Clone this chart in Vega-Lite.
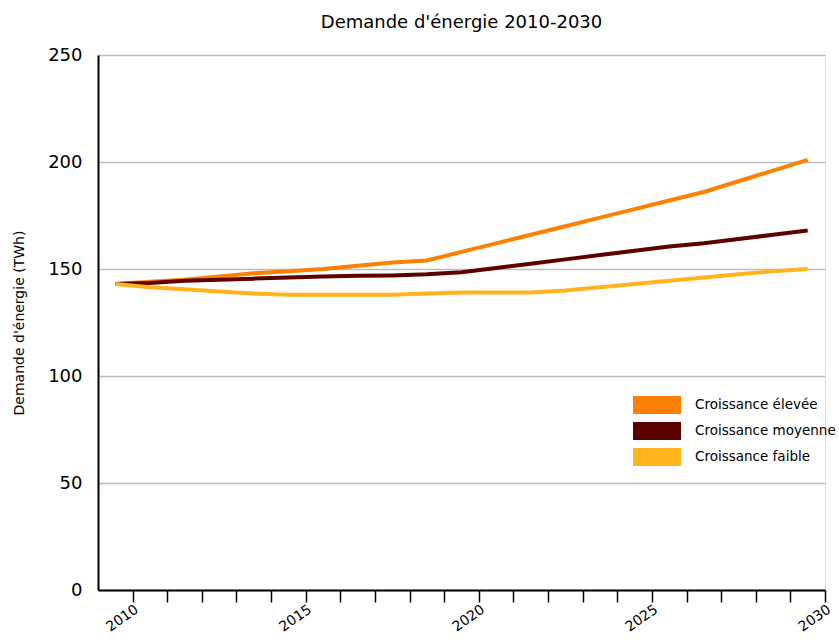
{
  "$schema": "https://vega.github.io/schema/vega-lite/v6.json",
  "width": 727,
  "height": 535,
  "autosize": {"type": "none"},
  "padding": {"left": 98, "top": 55, "right": 14, "bottom": 50},
  "background": "white",
  "title": {
    "text": "Demande d'énergie 2010-2030",
    "font": "DejaVu Sans",
    "fontSize": 18,
    "fontWeight": "normal",
    "color": "black",
    "offset": 14,
    "anchor": "middle"
  },
  "data": {
    "values": [
      {"annee": 2010, "scenario": "Croissance élevée", "demande": 143},
      {"annee": 2011, "scenario": "Croissance élevée", "demande": 144},
      {"annee": 2012, "scenario": "Croissance élevée", "demande": 145},
      {"annee": 2013, "scenario": "Croissance élevée", "demande": 146.5},
      {"annee": 2014, "scenario": "Croissance élevée", "demande": 148},
      {"annee": 2015, "scenario": "Croissance élevée", "demande": 149},
      {"annee": 2016, "scenario": "Croissance élevée", "demande": 150},
      {"annee": 2017, "scenario": "Croissance élevée", "demande": 151.5},
      {"annee": 2018, "scenario": "Croissance élevée", "demande": 153},
      {"annee": 2019, "scenario": "Croissance élevée", "demande": 154},
      {"annee": 2020, "scenario": "Croissance élevée", "demande": 158},
      {"annee": 2021, "scenario": "Croissance élevée", "demande": 162},
      {"annee": 2022, "scenario": "Croissance élevée", "demande": 166},
      {"annee": 2023, "scenario": "Croissance élevée", "demande": 170},
      {"annee": 2024, "scenario": "Croissance élevée", "demande": 174},
      {"annee": 2025, "scenario": "Croissance élevée", "demande": 178},
      {"annee": 2026, "scenario": "Croissance élevée", "demande": 182},
      {"annee": 2027, "scenario": "Croissance élevée", "demande": 186},
      {"annee": 2028, "scenario": "Croissance élevée", "demande": 191},
      {"annee": 2029, "scenario": "Croissance élevée", "demande": 196},
      {"annee": 2030, "scenario": "Croissance élevée", "demande": 201},
      {"annee": 2010, "scenario": "Croissance moyenne", "demande": 143},
      {"annee": 2011, "scenario": "Croissance moyenne", "demande": 143.5},
      {"annee": 2012, "scenario": "Croissance moyenne", "demande": 144.5},
      {"annee": 2013, "scenario": "Croissance moyenne", "demande": 145},
      {"annee": 2014, "scenario": "Croissance moyenne", "demande": 145.5},
      {"annee": 2015, "scenario": "Croissance moyenne", "demande": 146},
      {"annee": 2016, "scenario": "Croissance moyenne", "demande": 146.5},
      {"annee": 2017, "scenario": "Croissance moyenne", "demande": 146.8},
      {"annee": 2018, "scenario": "Croissance moyenne", "demande": 147},
      {"annee": 2019, "scenario": "Croissance moyenne", "demande": 147.5},
      {"annee": 2020, "scenario": "Croissance moyenne", "demande": 148.5},
      {"annee": 2021, "scenario": "Croissance moyenne", "demande": 150.5},
      {"annee": 2022, "scenario": "Croissance moyenne", "demande": 152.5},
      {"annee": 2023, "scenario": "Croissance moyenne", "demande": 154.5},
      {"annee": 2024, "scenario": "Croissance moyenne", "demande": 156.5},
      {"annee": 2025, "scenario": "Croissance moyenne", "demande": 158.5},
      {"annee": 2026, "scenario": "Croissance moyenne", "demande": 160.5},
      {"annee": 2027, "scenario": "Croissance moyenne", "demande": 162},
      {"annee": 2028, "scenario": "Croissance moyenne", "demande": 164},
      {"annee": 2029, "scenario": "Croissance moyenne", "demande": 166},
      {"annee": 2030, "scenario": "Croissance moyenne", "demande": 168},
      {"annee": 2010, "scenario": "Croissance faible", "demande": 143},
      {"annee": 2011, "scenario": "Croissance faible", "demande": 141.5},
      {"annee": 2012, "scenario": "Croissance faible", "demande": 140.5},
      {"annee": 2013, "scenario": "Croissance faible", "demande": 139.5},
      {"annee": 2014, "scenario": "Croissance faible", "demande": 138.5},
      {"annee": 2015, "scenario": "Croissance faible", "demande": 138},
      {"annee": 2016, "scenario": "Croissance faible", "demande": 138},
      {"annee": 2017, "scenario": "Croissance faible", "demande": 138},
      {"annee": 2018, "scenario": "Croissance faible", "demande": 138},
      {"annee": 2019, "scenario": "Croissance faible", "demande": 138.5},
      {"annee": 2020, "scenario": "Croissance faible", "demande": 139},
      {"annee": 2021, "scenario": "Croissance faible", "demande": 139},
      {"annee": 2022, "scenario": "Croissance faible", "demande": 139},
      {"annee": 2023, "scenario": "Croissance faible", "demande": 140},
      {"annee": 2024, "scenario": "Croissance faible", "demande": 141.5},
      {"annee": 2025, "scenario": "Croissance faible", "demande": 143},
      {"annee": 2026, "scenario": "Croissance faible", "demande": 144.5},
      {"annee": 2027, "scenario": "Croissance faible", "demande": 146},
      {"annee": 2028, "scenario": "Croissance faible", "demande": 147.5},
      {"annee": 2029, "scenario": "Croissance faible", "demande": 149},
      {"annee": 2030, "scenario": "Croissance faible", "demande": 150}
    ]
  },
  "mark": {"type": "line", "strokeWidth": 4, "strokeCap": "butt", "strokeJoin": "miter"},
  "encoding": {
    "x": {
      "field": "annee",
      "type": "quantitative",
      "scale": {"domain": [2009.5, 2030.5], "nice": false, "zero": false},
      "axis": {
        "title": null,
        "values": [2010.5, 2011.5, 2012.5, 2013.5, 2014.5, 2015.5, 2016.5, 2017.5, 2018.5, 2019.5, 2020.5, 2021.5, 2022.5, 2023.5, 2024.5, 2025.5, 2026.5, 2027.5, 2028.5, 2029.5, 2030.5],
        "labelExpr": "(datum.value - 0.5) % 5 == 0 ? format(datum.value - 0.5, 'd') : ''",
        "labelAngle": -35,
        "labelAlign": "right",
        "labelBaseline": "top",
        "labelFont": "DejaVu Sans",
        "labelFontSize": 14,
        "labelColor": "black",
        "labelPadding": 0,
        "labelOverlap": false,
        "labelFlush": false,
        "tickSize": 12,
        "tickColor": "black",
        "tickWidth": 1.5,
        "domainColor": "black",
        "domainWidth": 2,
        "grid": false
      }
    },
    "y": {
      "field": "demande",
      "type": "quantitative",
      "scale": {"domain": [0, 250], "nice": false},
      "axis": {
        "title": "Demande d'énergie (TWh)",
        "titleFont": "DejaVu Sans",
        "titleFontSize": 14,
        "titleFontWeight": "normal",
        "titleColor": "black",
        "titlePadding": 21,
        "values": [0, 50, 100, 150, 200, 250],
        "labelFont": "DejaVu Sans",
        "labelFontSize": 18,
        "labelColor": "black",
        "labelPadding": 16,
        "tickSize": 0,
        "domainColor": "black",
        "domainWidth": 2,
        "grid": true,
        "gridColor": "#bdbdbd",
        "gridWidth": 1.5
      }
    },
    "color": {
      "field": "scenario",
      "type": "nominal",
      "sort": ["Croissance élevée", "Croissance moyenne", "Croissance faible"],
      "scale": {
        "domain": ["Croissance élevée", "Croissance moyenne", "Croissance faible"],
        "range": ["#FF8000", "#5C0000", "#FFB41E"]
      },
      "legend": {
        "title": null,
        "orient": "none",
        "legendX": 550,
        "legendY": 341,
        "symbolType": "M-2.667,-1H2.667V1H-2.667Z",
        "symbolSize": 324,
        "symbolStrokeWidth": 0,
        "labelFont": "DejaVu Sans",
        "labelFontSize": 13.5,
        "labelColor": "black",
        "labelOffset": 29,
        "rowPadding": 8,
        "encode": {
          "symbols": {"update": {"fill": {"scale": "color", "field": "value"}, "fillOpacity": {"value": 1}}}
        }
      }
    }
  }
}
